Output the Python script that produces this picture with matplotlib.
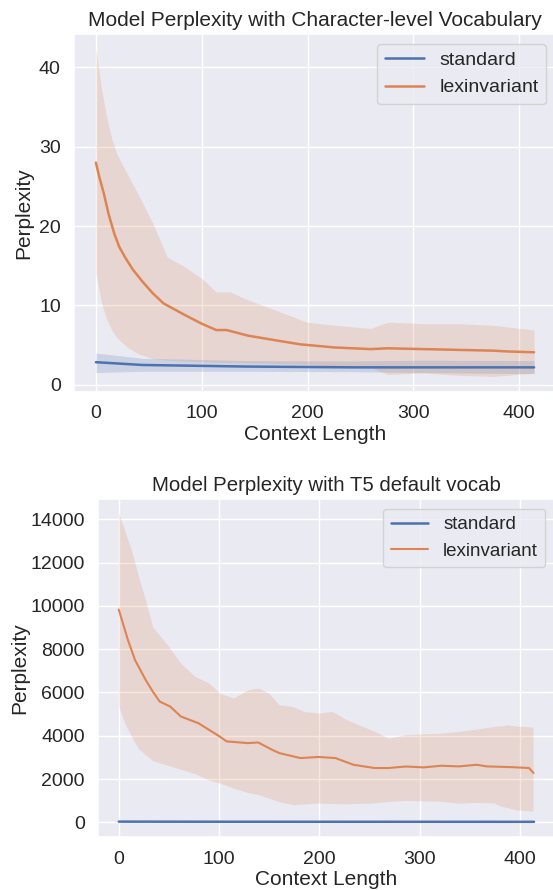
import matplotlib
matplotlib.use("Agg")
import matplotlib.pyplot as plt
import seaborn as sns

sns.set_theme(style="darkgrid")
plt.rcParams['font.family'] = ['Liberation Sans', 'DejaVu Sans']

AZUL = "#4c72b0"
NARANJA = "#dd8452"

# --- Vocabulario a nivel de caracter (grafico superior) ---
char_std_x = [0, 44, 143, 243, 309, 414]
char_std_media = [2.85, 2.5, 2.3, 2.2, 2.2, 2.2]
char_std_sup = [4.0, 3.35, 3.05, 3.0, 3.1, 3.05]
char_std_inf = [1.55, 1.7, 1.7, 1.65, 1.55, 1.4]

char_lex_x = [0, 3, 7.5, 12, 17.5, 22, 27.4, 35, 44, 54, 64, 84, 100, 113.7, 123.6,
              143.5, 170, 193, 226, 259.6, 276, 309, 342.7, 375.9, 389, 414]
char_lex_media = [28.0, 26.3, 24.1, 21.5, 19.0, 17.4, 16.1, 14.5, 13.0, 11.5, 10.25, 8.8,
                  7.7, 6.9, 6.9, 6.2, 5.6, 5.1, 4.7, 4.5, 4.6, 4.5, 4.4, 4.3, 4.2, 4.1]

char_banda_x = [0, 5, 10, 15, 20, 30, 40, 54, 67.3, 83.6, 100, 113.7, 127,
                143.5, 170, 199, 226, 259.6, 276, 309, 342.7, 375.9, 414]
char_banda_sup = [42.4, 37.5, 33.8, 31.0, 29.0, 26.5, 24.0, 20.3, 16.1, 14.9, 13.4, 11.7, 11.7,
                  10.7, 9.4, 7.9, 7.5, 7.1, 7.9, 7.7, 7.7, 7.5, 6.9]
char_banda_inf = [14.0, 10.5, 8.3, 6.9, 5.9, 4.7, 3.9, 3.3, 3.1, 3.0, 2.9, 2.85, 2.8,
                  2.8, 2.7, 2.6, 2.3, 2.2, 1.3, 1.5, 1.2, 1.05, 1.5]

# --- Vocabulario T5 por defecto (grafico inferior) ---
t5_std_x = [0, 100, 200, 300, 414]
t5_std_media = [35, 30, 28, 27, 26]
t5_std_sup = [50, 40, 36, 35, 34]
t5_std_inf = [22, 21, 20, 20, 19]

t5_lex_x = [0, 9.2, 16.2, 26.8, 33.8, 40.8, 51.3, 61.9, 79.4, 100.5, 107.5, 128.6,
            139, 153, 160, 181, 199, 216, 234, 255, 269, 286, 304, 321.7, 339,
            356.7, 367, 392, 409, 413.5]
t5_lex_media = [9830, 8415, 7500, 6580, 6050, 5580, 5350, 4890, 4580, 3970, 3740, 3660,
                3690, 3350, 3200, 2970, 3020, 2970, 2660, 2510, 2510, 2580, 2540, 2615, 2585,
                2660, 2585, 2550, 2510, 2280]

t5_banda_x = [0, 5.8, 12.7, 19.8, 26.8, 33.8, 50, 61.9, 75.9, 90, 100.5,
              114.5, 128.6, 139, 149.5, 160, 174, 184.7, 199, 213, 227, 251.4, 269,
              286, 321.7, 339, 356.7, 374, 381, 388, 395.5, 413]
t5_banda_sup = [14300, 13490, 12570, 11340, 10260, 9030, 8100, 7350, 6740, 6430, 5970,
                5740, 6120, 6200, 5970, 5430, 5350, 5120, 5050, 5120, 4740, 4280, 3890,
                4050, 4120, 4200, 4310, 4430, 4450, 4510, 4450, 4400]
t5_banda_inf = [5350, 4600, 3970, 3400, 3120, 2850, 2620, 2450, 2250, 1950, 1815,
                1580, 1380, 1280, 1120, 950, 815, 850, 890, 870, 860, 890, 970,
                1015, 970, 890, 920, 900, 740, 680, 585, 510]

fig = plt.figure(figsize=(5.53, 8.90), dpi=100)
ax1 = fig.add_axes([0.1338, 0.5596, 0.8716, 0.4022])
ax2 = fig.add_axes([0.1772, 0.0592, 0.826, 0.3798])

# Grafico superior
ax1.fill_between(char_std_x, char_std_inf, char_std_sup, color=AZUL, alpha=0.2, linewidth=0)
ax1.fill_between(char_banda_x, char_banda_inf, char_banda_sup, color=NARANJA, alpha=0.2, linewidth=0)
ax1.plot(char_std_x, char_std_media, color=AZUL, lw=1.8, label="standard")
ax1.plot(char_lex_x, char_lex_media, color=NARANJA, lw=1.8, label="lexinvariant")
ax1.set_xlim(-20.7, 434.7)
ax1.set_ylim(-0.9, 44.2)
ax1.set_xticks([0, 100, 200, 300, 400])
ax1.set_yticks([0, 10, 20, 30, 40])
ax1.tick_params(labelsize=14)
ax1.set_title("Model Perplexity with Character-level Vocabulary", fontsize=15)
ax1.set_xlabel("Context Length", fontsize=15, labelpad=2)
ax1.set_ylabel("Perplexity", fontsize=15)
ax1.legend(loc="upper right", fontsize=14)

# Grafico inferior
ax2.fill_between(t5_std_x, t5_std_inf, t5_std_sup, color=AZUL, alpha=0.2, linewidth=0)
ax2.fill_between(t5_banda_x, t5_banda_inf, t5_banda_sup, color=NARANJA, alpha=0.2, linewidth=0)
ax2.plot(t5_std_x, t5_std_media, color=AZUL, lw=1.8, label="standard")
ax2.plot(t5_lex_x, t5_lex_media, color=NARANJA, lw=1.5, label="lexinvariant")
ax2.set_xlim(-20.7, 434.7)
ax2.set_ylim(-690, 14920)
ax2.set_xticks([0, 100, 200, 300, 400])
ax2.set_yticks([0, 2000, 4000, 6000, 8000, 10000, 12000, 14000])
ax2.tick_params(labelsize=14)
ax2.set_title("Model Perplexity with T5 default vocab", fontsize=14.7)
ax2.set_xlabel("Context Length", fontsize=15, labelpad=2)
ax2.set_ylabel("Perplexity", fontsize=15, labelpad=1)
ax2.legend(loc="upper right", fontsize=13.5)

plt.savefig("out.png", dpi=100)
plt.close()
